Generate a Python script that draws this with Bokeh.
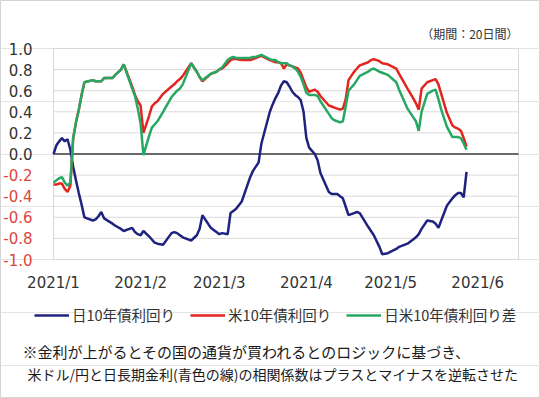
import pandas as pd
from bokeh.plotting import figure
from bokeh.models import (Range1d, FixedTicker, CustomJSTickFormatter, Legend, LegendItem,
                          Label, LinearAxis)
from bokeh.embed import file_html
from bokeh.resources import INLINE

# ---- data (20-day correlation with USD/JPY) ----
dates = ["01-04", "01-05", "01-06", "01-07", "01-08", "01-09", "01-10", "01-11", "01-12", "01-13",
         "01-14", "01-15", "01-18", "01-19", "01-20", "01-21", "01-22", "01-25", "01-26", "01-28",
         "01-29", "02-01", "02-02", "02-03", "02-04", "02-05", "02-07", "02-08", "02-09", "02-10",
         "02-12", "02-15", "02-16", "02-17", "02-18", "02-19", "02-22", "02-24", "02-25", "02-26",
         "03-01", "03-02", "03-03", "03-04", "03-05", "03-07", "03-08", "03-09", "03-10", "03-12",
         "03-15", "03-16", "03-17", "03-18", "03-19", "03-22", "03-23", "03-24", "03-25", "03-26",
         "03-27", "03-28", "03-29", "03-30", "03-31", "04-01", "04-02", "04-03", "04-04", "04-05",
         "04-06", "04-07", "04-08", "04-09", "04-12", "04-13", "04-14", "04-15", "04-16", "04-17",
         "04-18", "04-19", "04-20", "04-21", "04-22", "04-23", "04-26", "04-27", "04-28", "04-30",
         "05-01", "05-03", "05-06", "05-07", "05-10", "05-12", "05-13", "05-14", "05-15", "05-17",
         "05-19", "05-20", "05-21", "05-22", "05-24", "05-26", "05-27", "05-28", "05-29", "05-30",
         "05-31"]

jp10y = [0.00, 0.08, 0.12, 0.15, 0.12, 0.14, 0.04, -0.12, -0.25, -0.37,
         -0.48, -0.60, -0.63, -0.62, -0.59, -0.55, -0.61, -0.66, -0.68, -0.71,
         -0.73, -0.70, -0.74, -0.76, -0.77, -0.73, -0.78, -0.81, -0.84, -0.85,
         -0.86, -0.75, -0.74, -0.75, -0.77, -0.79, -0.82, -0.77, -0.71, -0.58,
         -0.70, -0.72, -0.74, -0.76, -0.75, -0.76, -0.56, -0.54, -0.52, -0.45,
         -0.22, -0.16, -0.12, -0.08, 0.10, 0.40, 0.47, 0.53, 0.58, 0.65,
         0.69, 0.68, 0.64, 0.59, 0.56, 0.54, 0.51, 0.40, 0.15, 0.06,
         0.03, 0.00, -0.06, -0.18, -0.36, -0.38, -0.38, -0.38, -0.40, -0.42,
         -0.50, -0.58, -0.57, -0.56, -0.55, -0.56, -0.69, -0.73, -0.77, -0.88,
         -0.95, -0.94, -0.90, -0.88, -0.85, -0.81, -0.79, -0.76, -0.71, -0.63,
         -0.64, -0.66, -0.70, -0.63, -0.49, -0.42, -0.39, -0.37, -0.37, -0.41,
         -0.17]

us10y = [-0.29, -0.29, -0.28, -0.28, -0.33, -0.36, -0.30, 0.15, 0.30, 0.42,
         0.56, 0.68, 0.70, 0.69, 0.69, 0.69, 0.72, 0.72, 0.75, 0.80,
         0.85, 0.64, 0.56, 0.50, 0.46, 0.20, 0.36, 0.45, 0.48, 0.50,
         0.57, 0.64, 0.66, 0.69, 0.71, 0.74, 0.86, 0.78, 0.73, 0.69,
         0.76, 0.77, 0.78, 0.80, 0.81, 0.86, 0.89, 0.90, 0.90, 0.89,
         0.89, 0.90, 0.91, 0.92, 0.93, 0.89, 0.88, 0.87, 0.87, 0.86,
         0.81, 0.85, 0.84, 0.83, 0.82, 0.81, 0.77, 0.70, 0.63, 0.59,
         0.60, 0.61, 0.59, 0.55, 0.46, 0.45, 0.44, 0.43, 0.42, 0.43,
         0.52, 0.70, 0.74, 0.78, 0.81, 0.84, 0.87, 0.89, 0.90, 0.88,
         0.86, 0.85, 0.81, 0.76, 0.62, 0.53, 0.48, 0.42, 0.62, 0.68,
         0.70, 0.71, 0.66, 0.57, 0.39, 0.27, 0.25, 0.24, 0.22, 0.15,
         0.07]

spread = [-0.27, -0.25, -0.23, -0.22, -0.27, -0.30, -0.27, 0.15, 0.30, 0.42,
          0.56, 0.68, 0.70, 0.69, 0.69, 0.69, 0.72, 0.72, 0.75, 0.80,
          0.85, 0.62, 0.55, 0.43, 0.29, -0.01, 0.17, 0.25, 0.28, 0.31,
          0.40, 0.54, 0.57, 0.60, 0.62, 0.66, 0.86, 0.78, 0.73, 0.70,
          0.76, 0.77, 0.78, 0.80, 0.82, 0.89, 0.91, 0.92, 0.91, 0.91,
          0.91, 0.92, 0.92, 0.93, 0.94, 0.90, 0.89, 0.89, 0.87, 0.86,
          0.86, 0.86, 0.84, 0.83, 0.81, 0.78, 0.73, 0.66, 0.58, 0.56,
          0.56, 0.56, 0.55, 0.50, 0.38, 0.34, 0.32, 0.31, 0.30, 0.31,
          0.45, 0.60, 0.63, 0.66, 0.70, 0.74, 0.78, 0.80, 0.81, 0.78,
          0.77, 0.75, 0.68, 0.61, 0.43, 0.35, 0.31, 0.22, 0.40, 0.57,
          0.60, 0.61, 0.52, 0.42, 0.26, 0.16, 0.16, 0.16, 0.15, 0.10,
          0.04]

series_names = ["日10年債利回り", "米10年債利回り", "日米10年債利回り差"]
y_ticks = [1.0, 0.8, 0.6, 0.4, 0.2, 0.0, -0.2, -0.4, -0.6, -0.8, -1.0]
x_tick_dates = ["2021-01-04", "2021-02-04", "2021-03-04", "2021-04-04", "2021-05-04", "2021-06-04"]
x_start, x_end = "2021-01-04", "2021-06-18 12:00"
y_min, y_max = -1.0, 1.0
period_note = "（期間：20日間）"
note_lines = ["※金利が上がるとその国の通貨が買われるとのロジックに基づき、",
              "米ドル/円と日長期金利(青色の線)の相関係数はプラスとマイナスを逆転させた"]

# ---- layout constants (pixels) ----
W, H = 540, 398
PL, PR, PT, PB = 53, 518, 48, 259          # plot-area box inside the canvas
JP = "Noto Sans CJK JP"
NUM = "DejaVu Sans"
TXT = "#333333"
RED_LBL = "#e0453c"
GRID = "#d9d9d9"

t0 = pd.Timestamp(x_start)
t1 = pd.Timestamp(x_end)
ms0 = t0.value / 1e6
ms1 = t1.value / 1e6
mpp = (ms1 - ms0) / (PR - PL)               # ms per pixel
ypp = (y_max - y_min) / (PB - PT)            # units per pixel

x = pd.to_datetime(["2021-" + d for d in dates])

p = figure(width=W, height=H, x_axis_type="datetime", y_axis_location=None,
           output_backend="svg", toolbar_location=None,
           x_range=Range1d(ms0 - PL * mpp, ms1 + (W - PR) * mpp),
           y_range=Range1d(y_min - (H - PB) * ypp, y_max + PT * ypp),
           min_border=0, min_border_left=0, min_border_right=0,
           min_border_top=0, min_border_bottom=0)
p.outline_line_color = "#d4d4d4"
p.outline_line_width = 1
p.background_fill_color = "white"
p.border_fill_color = "white"
p.xgrid.visible = False

# plot-area frame and grid lines
n = len(y_ticks)
p.segment(x0=[t0] * n, x1=[t1] * n, y0=y_ticks, y1=y_ticks, line_color=GRID, line_width=1)
p.segment(x0=[t0, t1], x1=[t0, t1], y0=[y_min] * 2, y1=[y_max] * 2, line_color=GRID, line_width=1)
p.segment(x0=[t0], x1=[t1], y0=[0.0], y1=[0.0], line_color="#404040", line_width=1.5)

# x axis (pinned to the bottom of the plot area)
xa = p.xaxis[0]
xa.fixed_location = y_min
xa.ticker = FixedTicker(ticks=[pd.Timestamp(d).value / 1e6 for d in x_tick_dates])
xa.formatter = CustomJSTickFormatter(code="""
    const d = new Date(tick);
    return d.getUTCFullYear() + "/" + (d.getUTCMonth() + 1);
""")
xa.major_label_standoff = 14

# y axes (black for >= 0, red for < 0), pinned to the left edge of the plot area
ya_pos = LinearAxis(ticker=FixedTicker(ticks=[v for v in y_ticks if v >= 0]),
                    fixed_location=ms0, major_label_text_color=TXT)
ya_neg = LinearAxis(ticker=FixedTicker(ticks=[v for v in y_ticks if v < 0]),
                    fixed_location=ms0, major_label_text_color=RED_LBL)
for ax in (ya_pos, ya_neg):
    ax.formatter = CustomJSTickFormatter(code="return tick.toFixed(1);")
    ax.major_label_standoff = 21
    p.add_layout(ax, "left")

for ax in (xa, ya_pos, ya_neg):
    ax.axis_line_color = None
    ax.major_tick_line_color = None
    ax.minor_tick_line_color = None
    ax.major_tick_out = 0
    ax.major_tick_in = 0
    ax.minor_tick_out = 0
    ax.major_label_text_font = NUM
    ax.major_label_text_font_size = "15px"
xa.major_label_text_color = TXT

# series
r1 = p.line(x, jp10y, line_color="#1f237f", line_width=2.5)
r2 = p.line(x, us10y, line_color="#e3251f", line_width=2.5)
r3 = p.line(x, spread, line_color="#27a862", line_width=2.5)

legend = Legend(items=[LegendItem(label=series_names[0], renderers=[r1]),
                       LegendItem(label=series_names[1], renderers=[r2]),
                       LegendItem(label=series_names[2], renderers=[r3])],
                orientation="horizontal", location=(34, H - 325),
                glyph_width=35, glyph_height=20, label_height=20, label_standoff=3,
                spacing=15, padding=0, margin=0, border_line_color=None,
                background_fill_alpha=0,
                label_text_font=JP, label_text_font_size="14.5px", label_text_color=TXT)
p.add_layout(legend, "center")

for txt, px, py, fs in ((note_lines[0], 22, 351, "15px"), (note_lines[1], 27, 373, "14px")):
    p.add_layout(Label(x=px, y=H - py, x_units="screen", y_units="screen", text=txt,
                       text_font=JP, text_font_size=fs, text_color="#1a1a1a",
                       text_baseline="middle", text_align="left"))

p.add_layout(Label(x=PR, y=H - 33, x_units="screen", y_units="screen", text=period_note,
                   text_font=JP, text_font_size="12px", text_color=TXT,
                   text_baseline="middle", text_align="right"))

open("out.html", "w").write(file_html(p, INLINE))
